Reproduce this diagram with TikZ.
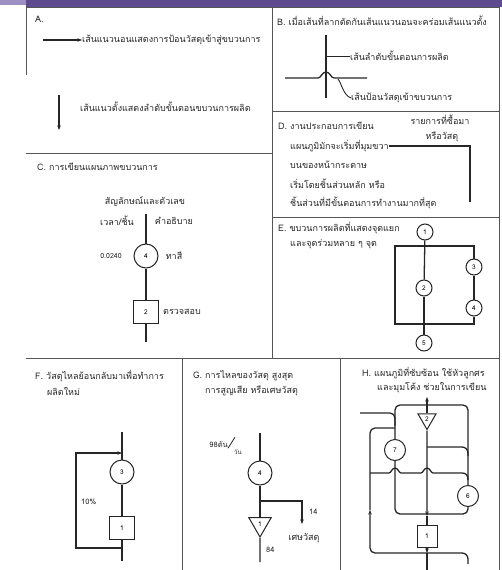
\documentclass[tikz,border=0pt]{standalone}
\usepackage{fontspec}
\newfontfamily\thai[Script=Thai]{Loma}
\usetikzlibrary{arrows.meta,shapes.geometric}
\definecolor{ink}{HTML}{262626}
\definecolor{rule}{HTML}{555555}
\definecolor{barpurple}{HTML}{5E4A8E}
\definecolor{barlight}{HTML}{9C8FC2}
\begin{document}
\begin{tikzpicture}[
  x=1pt, y=-1pt,
  txt/.style={font=\thai\fontsize{9}{10}\selectfont, text=ink, inner sep=0pt, anchor=west},
  mid/.style={txt, anchor=center},
  num/.style={circle, draw=ink, line width=1pt, fill=white, inner sep=0pt, minimum size=16pt, font=\thai\fontsize{6.5}{7}\selectfont},
  big/.style={num, minimum size=24pt},
  sq/.style={rectangle, draw=ink, line width=1pt, fill=white, inner sep=0pt, minimum width=25pt, minimum height=23pt, font=\thai\fontsize{6.5}{7}\selectfont},
  tri/.style={regular polygon, regular polygon sides=3, shape border rotate=180, draw=ink, line width=1pt, fill=white, inner sep=0pt, minimum size=26pt, font=\thai\fontsize{6.5}{7}\selectfont},
  flow/.style={draw=ink, line width=1.3pt},
  frame/.style={draw=rule, line width=0.8pt},
  >={Stealth[length=4.5pt,width=3.5pt]}
]
\useasboundingbox (0,0) rectangle (502,570);
% top bar
\fill[barlight] (0,0) rectangle (26,5);
\fill[barpurple] (26,0) rectangle (502,7);

% frame
\draw[frame] (26,7) -- (26,75);
\draw[frame] (26,7) -- (499,7) -- (499,570);
\draw[frame] (272,7) -- (272,358);
\draw[frame] (26,153) -- (272,153);
\draw[frame] (272,111) -- (499,111);
\draw[frame] (272,217) -- (499,217);
\draw[frame] (26,358) -- (499,358);
\draw[frame] (182,358) -- (182,570);
\draw[frame] (340,358) -- (340,570);

% A
\node[txt] (titleA) at (35,19) {A.};
\coordinate (aIn) at (43,40);
\node[txt] (aHor) at (82,40) {เส้นแนวนอนแสดงการป้อนวัสดุเข้าสู่ขบวนการ};
\draw[flow,->] (aIn) -- (aHor.west);
\coordinate (aTop) at (59,95);
\coordinate (aEnd) at (59,130);
\draw[flow,->] (aTop) -- (aEnd);
\node[txt] (aVer) at (80,107) {เส้นแนวตั้งแสดงลำดับขั้นตอนขบวนการผลิต};

% B
\node[txt] (titleB) at (277,21) {B. เมื่อเส้นที่ลากตัดกันเส้นแนวนอนจะคร่อมเส้นแนวตั้ง};
\coordinate (bTop) at (326,35);
\coordinate (bEnd) at (326,98);
\coordinate (bLeft) at (285,78);
\coordinate (bRight) at (367,78);
\coordinate (bMid) at (326,56);
\coordinate (bFoot) at (338,79);
\draw[flow] (bTop) -- (bEnd);
\draw[flow] (bLeft) -- (318,78) .. controls (321,78) and (322,72) .. (326,72)
  .. controls (330,72) and (331,78) .. (334,78) -- (bRight);
\node[txt] (bStep) at (350,56) {เส้นลำดับขั้นตอนการผลิต};
\node[txt] (bFeed) at (351,98) {เส้นป้อนวัสดุเข้าขบวนการ};
\draw[ink, line width=0.9pt] (bMid) -- (bStep.west);
\draw[ink, line width=0.9pt] (bFoot) .. controls (342,84) and (343,95) .. (bFeed.west);

% D
\node[txt] (titleD) at (278,126) {D. งานประกอบการเขียน};
\node[mid] (dBuy) at (440,120) {รายการที่ซื้อมา};
\node[mid] (dMat) at (442,137) {หรือวัสดุ};
\node[txt] (dLine1) at (290,146) {แผนภูมิมักจะเริ่มที่มุมขวา};
\node[txt] (dLine2) at (290,165) {บนของหน้ากระดาษ};
\node[txt] (dLine3) at (290,184) {เริ่มโดยชิ้นส่วนหลัก หรือ};
\node[txt] (dLine4) at (290,203) {ชิ้นส่วนที่มีขั้นตอนการทำงานมากที่สุด};
\coordinate (dEnd) at (470,202);
\draw[flow] (dLine1.east) -| (dEnd);

% E
\node[txt] (titleE) at (278,228) {E. ขบวนการผลิตที่แสดงจุดแยก};
\node[txt] (titleE2) at (290,244) {และจุดร่วมหลาย ๆ จุด};
\coordinate (eSplit) at (424,246);
\coordinate (eJoin) at (424,324);
\coordinate (eLeft) at (395,246);
\node[num] (e1) at (425,232) {1};
\node[num] (e2) at (424,288) {2};
\node[num] (e3) at (474,267) {3};
\node[num] (e4) at (474,308) {4};
\node[num] (e5) at (424,343) {5};
\draw[flow] (e1) -- (e2);
\draw[flow] (e2) -- (e5);
\draw[flow] (eSplit) -- (eLeft) |- (eJoin);
\draw[flow] (eSplit) -| (e3);
\draw[flow] (e3) -- (e4);
\draw[flow] (e4) |- (eJoin);

% C
\node[txt] (titleC) at (37,167) {C. การเขียนแผนภาพขบวนการ};
\node[mid] (cSym) at (145,202) {สัญลักษณ์และตัวเลข};
\node[mid] (cTime) at (117,221) {เวลา/ชิ้น};
\node[mid] (cDesc) at (174,221) {คำอธิบาย};
\coordinate (cTop) at (146,214);
\coordinate (cEnd) at (146,342);
\node[big] (c4) at (146,256) {4};
\node[sq] (c2) at (146,312) {2};
\node[mid, font=\thai\fontsize{7}{8}\selectfont] (cVal) at (111,256) {0.0240};
\node[mid] (cPaint) at (174,256) {ทาสี};
\node[txt] (cCheck) at (163,312) {ตรวจสอบ};
\draw[flow] (cTop) -- (c4);
\draw[flow] (c4) -- (c2);
\draw[flow] (c2) -- (cEnd);

% F
\node[txt] (titleF) at (35,376) {F. วัสดุไหลย้อนกลับมาเพื่อทำการ};
\node[txt] (titleF2) at (47,391) {ผลิตใหม่};
\coordinate (fTop) at (122,432);
\coordinate (fEnd) at (122,561);
\coordinate (fIn) at (122,453);
\coordinate (fOut) at (122,548);
\coordinate (fBack) at (76,548);
\node[big] (f3) at (122,472) {3};
\node[sq] (f1) at (122,528) {1};
\node[txt, font=\thai\fontsize{7.5}{8}\selectfont] (fRate) at (81,502) {10\%};
\draw[flow] (fTop) -- (f3);
\draw[flow] (f3) -- (f1);
\draw[flow] (f1) -- (fEnd);
\draw[flow,->] (fOut) -- (fBack) |- (fIn);

% G
\node[txt] (titleG) at (193,376) {G. การไหลของวัสดุ สูงสุด};
\node[txt] (titleG2) at (205,391) {การสูญเสีย หรือเศษวัสดุ};
\coordinate (gTop) at (260,433);
\coordinate (gSplit) at (260,501);
\coordinate (gWaste) at (302,524);
\coordinate (gEnd) at (260,562);
\node[big] (g4) at (260,473) {4};
\node[tri] (g1) at (260,524) {1};
\node[txt, anchor=east, font=\thai\fontsize{7.5}{8}\selectfont] (gRate) at (228,445) {98ตัน};
\node[txt, font=\thai\fontsize{6}{7}\selectfont] (gDay) at (234,452) {วัน};
\draw[ink, line width=0.8pt] (gRate.south east) -- ++(7,-11);
\node[txt, font=\thai\fontsize{7.5}{8}\selectfont] (gLoss) at (309,512) {14};
\node[mid] (gScrap) at (304,538) {เศษวัสดุ};
\node[txt, font=\thai\fontsize{7.5}{8}\selectfont] (gOut) at (266,550) {84};
\draw[flow] (gTop) -- (g4);
\draw[flow] (g4) -- (g1);
\draw[flow] (g1.south) -- (gEnd);
\draw[flow,->] (gSplit) -| (gWaste);

% H
\node[txt] (titleH) at (362,373) {H. แผนภูมิที่ซับซ้อน ใช้หัวลูกศร};
\node[txt] (titleH2) at (377,388) {และมุมโค้ง ช่วยในการเขียน};
\coordinate (hTop) at (427,397);
\coordinate (hEnd) at (427,570);
\coordinate (hNW) at (395,405);
\coordinate (hNE) at (468,405);
\coordinate (hSE) at (468,514);
\coordinate (hSW) at (395,514);
\coordinate (hIn) at (360,413);
\coordinate (hMerge) at (395,426);
\coordinate (hLoopIn) at (395,428);
\coordinate (hUp) at (370,510);
\coordinate (hJ1) at (427,447);
\coordinate (hJ2) at (427,516);
\coordinate (hJ3) at (427,553);
\coordinate (hOut) at (468,564);
\node[tri, minimum size=21pt] (h2) at (427,419) {2};
\node[num, minimum size=21pt] (h7) at (395,450) {7};
\node[num, minimum size=21pt] (h6) at (468,496) {6};
\node[sq, minimum width=20pt, minimum height=22pt] (h1) at (427,536) {1};
\draw[flow, rounded corners=5pt] (h7) -- (hNW) -- (hNE) -- (h6);
\draw[flow, rounded corners=5pt] (h6) -- (hSE) -- (hSW) -- (h7);
\draw[flow,<-] (hTop) -- (h2);
\draw[flow,->] (h2.south) -- (hJ2);
\draw[flow] (hJ2) -- (h1);
\draw[flow,->] (h1) -- (hJ3);
\draw[flow] (hJ3) -- (hEnd);
\draw[flow, rounded corners=5pt] (hIn) -| (hMerge);
\draw[flow, rounded corners=5pt, ->] (hJ3) -| (hUp);
\draw[flow, rounded corners=5pt] (hUp) |- (hLoopIn);
\draw[flow, rounded corners=6pt] (hJ1) -| (468,456);
\draw[flow, rounded corners=6pt] (hJ3) -| (hOut);
\draw[flow] (370,473) -- (389,473) .. controls (391,473) and (392,468) .. (395,468)
  .. controls (398,468) and (399,473) .. (401,473) -- (421,473)
  .. controls (423,473) and (424,468) .. (427,468)
  .. controls (430,468) and (431,473) .. (433,473) -- (462,473)
  .. controls (466,473) and (468,475) .. (468,480);
\end{tikzpicture}
\end{document}
